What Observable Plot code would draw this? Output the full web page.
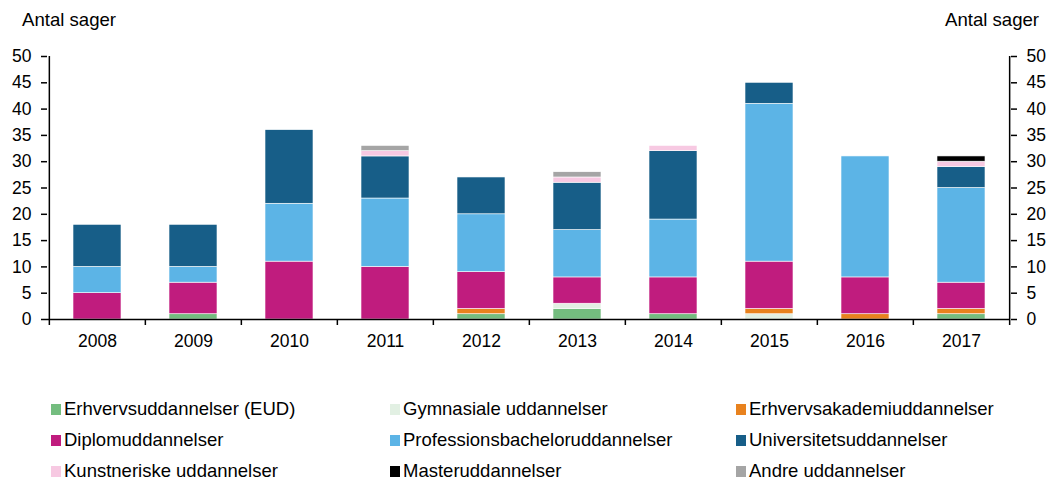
<!DOCTYPE html>
<html>
<head>
<meta charset="utf-8">
<script src="https://cdn.jsdelivr.net/npm/d3@7"></script>
<script src="https://cdn.jsdelivr.net/npm/@observablehq/plot@0.6"></script>
<style>
  body { margin: 0; background: #fff; font-family: "Liberation Sans", Arial, sans-serif; }
  #wrap { position: relative; width: 1051px; height: 482px; }
  .ytitle { position: absolute; top: 9px; font-size: 18.6px; color: #000; }
  #legend { position: absolute; left: 0; top: 401px; width: 1051px; }
  .item { position: absolute; font-size: 18.5px; color: #000; white-space: nowrap; line-height: 16px; }
  .sw { display: inline-block; width: 10px; height: 11px; margin-right: 3px; vertical-align: 0px; }
</style>
</head>
<body>
<div id="wrap">
  <div class="ytitle" style="left:22px">Antal sager</div>
  <div class="ytitle" style="left:945px">Antal sager</div>
  <div id="chart"></div>
  <div id="legend"></div>
</div>
<script>
const years = ["2008","2009","2010","2011","2012","2013","2014","2015","2016","2017"];
const seriesNames = [
  "Erhvervsuddannelser (EUD)", "Gymnasiale uddannelser", "Erhvervsakademiuddannelser",
  "Diplomuddannelser", "Professionsbacheloruddannelser", "Universitetsuddannelser",
  "Kunstneriske uddannelser", "Masteruddannelser", "Andre uddannelser"
];
const seriesColors = ["#74bd7f", "#e2f0e3", "#e8821e", "#c01c7e", "#5cb4e6", "#175e88", "#f7c9e2", "#000000", "#a5a5a5"];
const eud     = [0, 1, 0, 0, 1, 2, 1, 0, 0, 1];
const gym     = [0, 0, 0, 0, 0, 1, 0, 1, 0, 0];
const erhvAk  = [0, 0, 0, 0, 1, 0, 0, 1, 1, 1];
const diplom  = [5, 6, 11, 10, 7, 5, 7, 9, 7, 5];
const prof    = [5, 3, 11, 13, 11, 9, 11, 30, 23, 18];
const univ    = [8, 8, 14, 8, 7, 9, 13, 4, 0, 4];
const kunst   = [0, 0, 0, 1, 0, 1, 1, 0, 0, 1];
const master  = [0, 0, 0, 0, 0, 0, 0, 0, 0, 1];
const andre   = [0, 0, 0, 1, 0, 1, 0, 0, 0, 0];
const yTicks = [0, 5, 10, 15, 20, 25, 30, 35, 40, 45, 50];

const seriesValues = [eud, gym, erhvAk, diplom, prof, univ, kunst, master, andre];
const data = [];
seriesNames.forEach((s, si) => {
  years.forEach((yr, i) => data.push({year: yr, series: s, value: seriesValues[si][i]}));
});

const W = 1051, H = 350, ml = 47, mr = 41, mt = 56, mb = 31;
const step = (W - ml - mr) / years.length;

const chart = Plot.plot({
  width: W, height: H,
  marginLeft: ml, marginRight: mr, marginTop: mt, marginBottom: mb,
  style: {fontFamily: "'Liberation Sans', Arial, sans-serif", fontSize: "17.5px", color: "#000", background: "#fff"},
  x: {domain: years, paddingInner: 0.5, paddingOuter: 0.25, label: null},
  y: {domain: [0, 50], label: null},
  color: {domain: seriesNames, range: seriesColors},
  marks: [
    Plot.barY(data, {x: "year", y: "value", fill: "series", stroke: "#fff", strokeWidth: 0.6, order: seriesNames}),
    Plot.axisY(yTicks, {anchor: "left", tickSize: 6, tickPadding: 10, label: null, stroke: "#000", strokeWidth: 1.5, fill: "#000", fontSize: 17.5}),
    Plot.axisY(yTicks, {anchor: "right", tickSize: 6, tickPadding: 10, label: null, stroke: "#000", strokeWidth: 1.5, fill: "#000", fontSize: 17.5}),
    Plot.axisX({tickSize: 0, tickPadding: 15, label: null, fill: "#000", fontSize: 17.5}),
    Plot.ruleY([0], {stroke: "#000", strokeWidth: 1.5}),
    Plot.ruleX([years[0]], {y1: 0, y2: 50, dx: -step / 2, stroke: "#000", strokeWidth: 1.5}),
    Plot.ruleX([years[years.length - 1]], {y1: 0, y2: 50, dx: step / 2, stroke: "#000", strokeWidth: 1.5}),
    Plot.ruleX(years, {y1: 0, y2: 0, insetBottom: -6, dx: -step / 2, stroke: "#000", strokeWidth: 1.5}),
    Plot.ruleX([years[years.length - 1]], {y1: 0, y2: 0, insetBottom: -6, dx: step / 2, stroke: "#000", strokeWidth: 1.5})
  ]
});
document.getElementById("chart").appendChild(chart);

const legend = document.getElementById("legend");
const colX = [51, 390, 736];
seriesNames.forEach((s, i) => {
  const d = document.createElement("div");
  d.className = "item";
  d.style.left = colX[i % 3] + "px";
  d.style.top = (Math.floor(i / 3) * 31) + "px";
  d.innerHTML = `<span class="sw" style="background:${seriesColors[i]}"></span>${s}`;
  legend.appendChild(d);
});
</script>
</body>
</html>
